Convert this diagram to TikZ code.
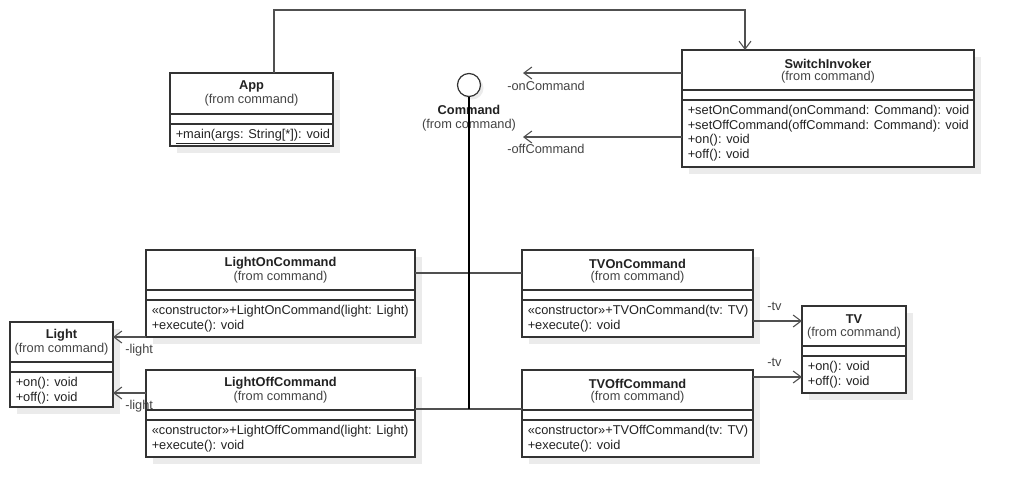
\documentclass[tikz,border=0pt]{standalone}
\usepackage{fontspec}
\setmainfont{Liberation Sans}
\usetikzlibrary{fit,arrows.meta}
\definecolor{shadowc}{HTML}{EBEBEB}
\definecolor{boxc}{HTML}{333333}
\definecolor{linec}{HTML}{505050}
\definecolor{txtc}{HTML}{222222}
\definecolor{subc}{HTML}{444444}
\tikzset{
  classbox/.style={draw=boxc, fill=white, line width=0.9pt, inner sep=0pt, outer sep=0pt},
  boxline/.style={draw=boxc, line width=0.9pt},
  titletext/.style={font=\fontsize{9.6}{11}\selectfont\bfseries, text=txtc, inner sep=0pt},
  fromtext/.style={font=\fontsize{9.6}{11}\selectfont, text=subc, inner sep=0pt},
  methtext/.style={font=\fontsize{9.6}{11}\selectfont, text=txtc, inner sep=0pt, anchor=west, text height=7pt, text depth=2pt},
  roletext/.style={font=\fontsize{9.6}{11}\selectfont, text=subc, inner sep=0pt, anchor=west, text height=7pt, text depth=2pt},
  assoc/.style={draw=linec, line width=0.9pt, -{Straight Barb[length=6pt,width=9pt,line width=0.8pt]}},
  conn/.style={draw=linec, line width=0.9pt},
  realize/.style={draw=black, line width=1.6pt},
}
\newcommand{\umlclass}[9]{%
  \fill[shadowc] (#2+7,#3+7) rectangle (#4+7,#5+7);
  \node[classbox, fit={(#2,#3) (#4,#5)}] (#1) {};
  \draw[boxline] (#2,#6) -- (#4,#6) (#2,#7) -- (#4,#7);
  \node[titletext] (#1-t) at ({(#2+#4)/2},#3+13.5) {#8};
  \node[fromtext] (#1-f) at ({(#2+#4)/2},#3+27.5) {(from command)};
  \foreach \m [count=\i] in {#9} \node[methtext] (#1-m\i) at (#2+5.5,{#7+11+(\i-1)*14.7}) {\m};
}
\begin{document}
\begin{tikzpicture}[x=0.75pt,y=-0.75pt]
\useasboundingbox[fill=white] (0,0) rectangle (1014,497);

% classes
\umlclass{app}{170}{73}{333}{146}{114}{124}{App}{{\underline{+main(args: String[*]): void}}}
\umlclass{switch}{682}{50}{974}{167}{90}{100}{SwitchInvoker}{{+setOnCommand(onCommand: Command): void},{+setOffCommand(offCommand: Command): void},{+on(): void},{+off(): void}}
\umlclass{lighton}{146}{250}{415}{337}{290}{300}{LightOnCommand}{{\guillemotleft constructor\guillemotright+LightOnCommand(light: Light)},{+execute(): void}}
\umlclass{lightoff}{146}{370}{415}{457}{410}{420}{LightOffCommand}{{\guillemotleft constructor\guillemotright+LightOffCommand(light: Light)},{+execute(): void}}
\umlclass{tvon}{522}{250}{753}{337}{290}{300}{TVOnCommand}{{\guillemotleft constructor\guillemotright+TVOnCommand(tv: TV)},{+execute(): void}}
\umlclass{tvoff}{522}{370}{753}{457}{410}{420}{TVOffCommand}{{\guillemotleft constructor\guillemotright+TVOffCommand(tv: TV)},{+execute(): void}}
\umlclass{light}{10}{322}{113}{407}{362}{372}{Light}{{+on(): void},{+off(): void}}
\umlclass{tv}{802}{306}{906}{393}{346}{356}{TV}{{+on(): void},{+off(): void}}

% Command interface (lollipop)
\fill[shadowc] (472,88) circle[radius=11.5];
\node[circle, draw=boxc, fill=white, line width=0.9pt, minimum size=17.25pt, inner sep=0pt] (cmd) at (469,85) {};
\node[titletext] (cmd-t) at (469,110) {Command};
\node[fromtext] (cmd-f) at (469,125) {(from command)};

% realization connectors
\draw[conn] (lighton.east |- 0,273) -- (cmd.south |- 0,273);
\draw[conn] (tvon.west |- 0,273) -- (cmd.south |- 0,273);
\draw[conn] (lightoff.east |- 0,409) -- (cmd.south |- 0,409);
\draw[conn] (tvoff.west |- 0,409) -- (cmd.south |- 0,409);
\draw[realize] (cmd.south) -- (cmd.south |- 0,409);

% App -> SwitchInvoker
\coordinate (bend) at (745,10);
\draw[assoc] ([shift={(104,0)}]app.north west) |- (bend) -- ([shift={(63,0)}]switch.north west);

% SwitchInvoker -> Command
\coordinate (onEnd) at (523,73);
\coordinate (offEnd) at (523,137);
\draw[assoc] (switch.west |- onEnd) -- (onEnd);
\draw[assoc] (switch.west |- offEnd) -- (offEnd);
\node[roletext] (lbl-on) at (507,87.5) {-onCommand};
\node[roletext] (lbl-off) at (507,150.5) {-offCommand};

% Light associations
\draw[assoc] (lighton.south west) -- (light.east |- lighton.south west);
\draw[assoc] (lightoff.west |- 0,393) -- (light.east |- 0,393);
\node[roletext] (lbl-l1) at (125,350.5) {-light};
\node[roletext] (lbl-l2) at (125,406.5) {-light};

% TV associations
\draw[assoc] (tvon.east |- 0,321) -- (tv.west |- 0,321);
\draw[assoc] (tvoff.east |- 0,377) -- (tv.west |- 0,377);
\node[roletext] (lbl-tv1) at (767,307.5) {-tv};
\node[roletext] (lbl-tv2) at (767,363.5) {-tv};
\end{tikzpicture}
\end{document}
